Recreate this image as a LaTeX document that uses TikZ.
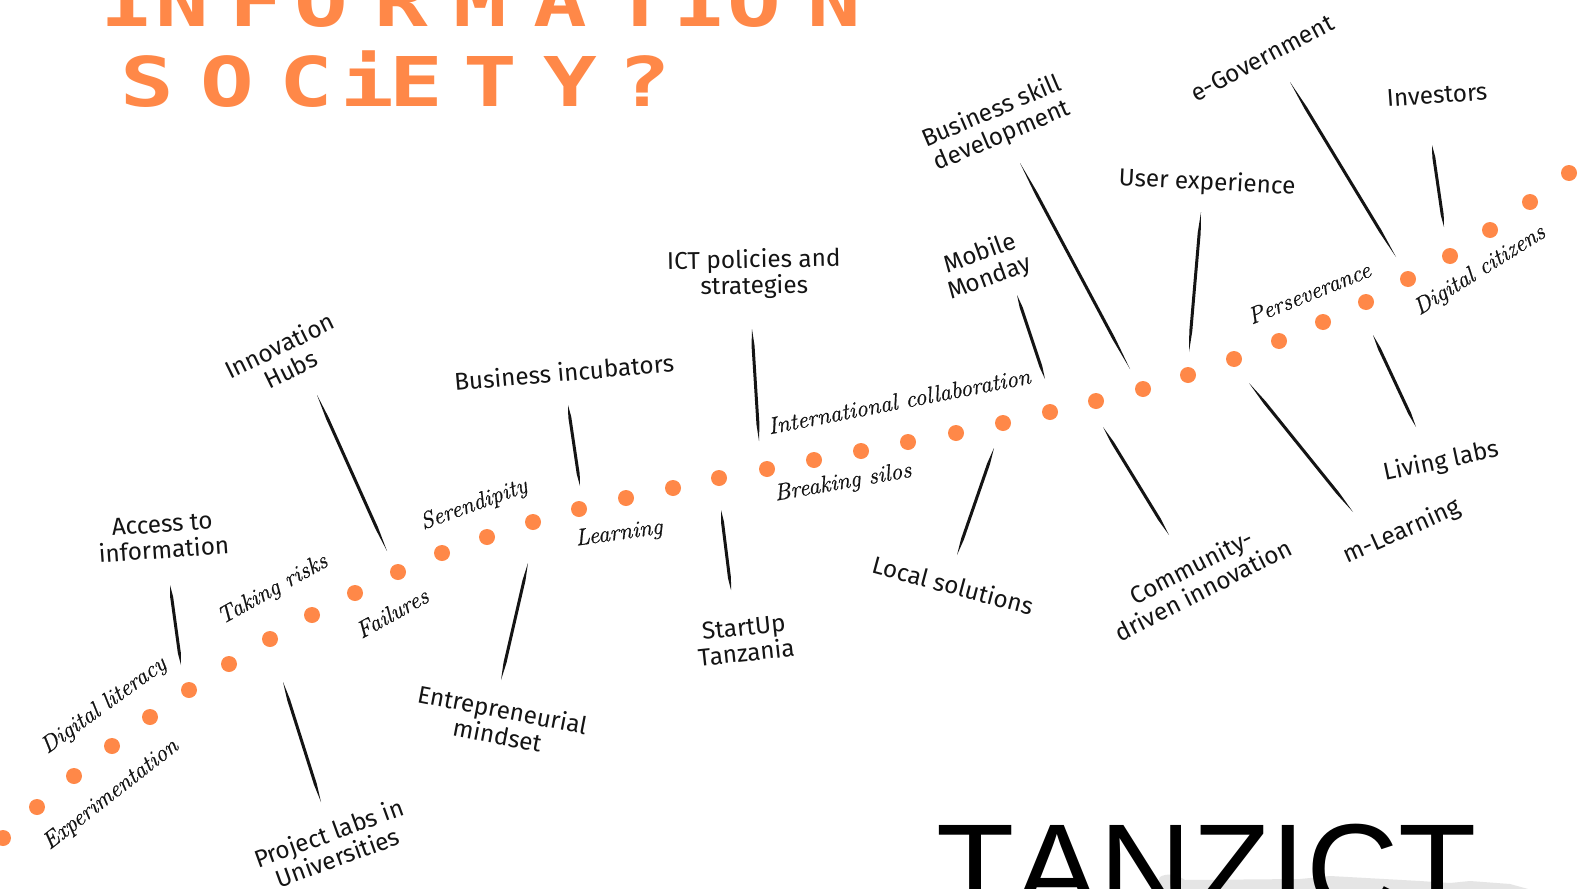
\documentclass[tikz,border=0pt]{standalone}
\usepackage{fontspec}
\usetikzlibrary{calc}
\newfontfamily\labfont{Fira Sans}
\newfontfamily\pixfont{DejaVu Sans Mono}[FakeStretch=1.3]
\newfontfamily\tzfont{Liberation Sans}[Kerning=Off]
\newfontfamily\handfont{Latin Modern Roman}[FakeBold=0.7]
\definecolor{orng}{RGB}{255,136,72}
\definecolor{ink}{RGB}{20,20,20}
\definecolor{smudge}{RGB}{229,229,229}
\newcommand\brush[2]{%
  \fill[ink] (#1) -- ($(#1)!0.15!(#2)!1.5pt!90:(#2)$) -- ($(#1)!0.85!(#2)!1.5pt!90:(#2)$)
   -- (#2) -- ($(#1)!0.85!(#2)!1.5pt!-90:(#2)$) -- ($(#1)!0.15!(#2)!1.5pt!-90:(#2)$) -- cycle;}
\tikzset{
  lbl/.style={font=\labfont\fontsize{24.3}{26}\selectfont, text=ink, align=center, inner sep=0pt},
  hw/.style={font=\handfont\itshape\fontsize{23.5}{25}\selectfont, text=ink, inner sep=0pt},
  pix/.style={font=\pixfont\bfseries\fontsize{68.6}{70}\selectfont, text=orng, inner sep=0pt, anchor=base},
}
\begin{document}
\begin{tikzpicture}[x=1pt,y=-1pt]
\useasboundingbox (0,0) rectangle (1583,889);
\clip (0,0) rectangle (1583,889);
\fill[white] (0,0) rectangle (1583,889);

% title in pixel-like letters
\foreach \l/\x [count=\i] in {I/127.4,N/182.2,F/256.8,O/321.5,R/401,M/480.7,A/560.3,T/639.9,I/700.4,O/754.3,N/833.9}
  \node[pix] (ta\i) at (\x,26.7) {\l};
\foreach \l/\x [count=\i] in {S/147.4,O/227,C/306.6,i/367.2,E/416,T/490.6,Y/570.2,?/644.8}
  \node[pix] (tb\i) at (\x,106.7) {\l};

% dotted path
\foreach \p in {(3,838),(37,807),(74,776),(112,746),(150,717),(189,690),(229,664),(270,639),(312,615),(355,593),(398,572),(442,553),(487,537),(533,522),(579,509),(626,498),(673,488),(719,478),(767,469),(814,460),(861,451),(908,442),(956,433),(1003,423),(1050,412),(1096,401),(1143,389),(1188,375),(1234,359),(1279,341),(1323,322),(1366,302),(1408,279),(1450,256),(1490,230),(1530,202),(1569,173)}
  \fill[orng] \p circle[radius=8pt];

% labels
\node[lbl, rotate=4] (access) at (163,537) {Access to\\information};
\node[lbl, rotate=26] (hubs) at (285,357) {Innovation\\Hubs};
\node[lbl, rotate=20] (plabs) at (333,845) {Project labs in\\Universities};
\node[lbl, rotate=5] (incub) at (564,372) {Business incubators};
\node[lbl, rotate=-11] (entre) at (500,722) {Entrepreneurial\\mindset};
\node[lbl, rotate=1] (ict) at (754,274) {ICT policies and\\strategies};
\node[lbl, rotate=6] (startup) at (745,640) {StartUp\\Tanzania};
\node[lbl, rotate=20] (mobile) at (985,266) {Mobile\\Monday};
\node[lbl, rotate=23] (bsd) at (997,124) {Business skill\\development};
\node[lbl, rotate=-15] (local) at (953,585) {Local solutions};
\node[lbl, rotate=-3] (ux) at (1207,183) {User experience};
\node[lbl, rotate=27] (comm) at (1197,578) {Community-\\driven innovation};
\node[lbl, rotate=28] (egov) at (1262,58) {e-Government};
\node[lbl, rotate=4] (invest) at (1437,95) {Investors};
\node[lbl, rotate=12] (living) at (1441,462) {Living labs};
\node[lbl, rotate=24] (mlearn) at (1402,532) {m-Learning};

% handwritten words
\node[hw, rotate=38] (exper) at (111,795) {Experimentation};
\node[hw, rotate=36] (diglit) at (104,706) {Digital literacy};
\node[hw, rotate=29] (risks) at (273,590) {Taking risks};
\node[hw, rotate=29] (fail) at (392,613) {Failures};
\node[hw, rotate=20] (seren) at (474,505) {Serendipity};
\node[hw, rotate=8] (learn) at (619,534) {Learning};
\node[hw, rotate=10] (silos) at (843,483) {Breaking silos};
\node[hw, rotate=11] (intl) at (899,401) {International collaboration};
\node[hw, rotate=22] (persev) at (1309,293) {Perseverance};
\node[hw, rotate=32] (digcit) at (1480,271) {Digital citizens};

% connector ends
\coordinate (c1a) at (170,585);  \coordinate (c1b) at (181,665);
\coordinate (c2a) at (317,395);  \coordinate (c2b) at (387,551);
\coordinate (c3a) at (283,682);  \coordinate (c3b) at (321,802);
\coordinate (c4a) at (568,405);  \coordinate (c4b) at (580,486);
\coordinate (c5a) at (528,563);  \coordinate (c5b) at (501,680);
\coordinate (c6a) at (752,329);  \coordinate (c6b) at (759,441);
\coordinate (c7a) at (721,510);  \coordinate (c7b) at (731,590);
\coordinate (c8a) at (1017,295); \coordinate (c8b) at (1045,379);
\coordinate (c9a) at (1020,163); \coordinate (c9b) at (1130,369);
\coordinate (c10a) at (994,448); \coordinate (c10b) at (957,555);
\coordinate (c11a) at (1201,212); \coordinate (c11b) at (1189,352);
\coordinate (c12a) at (1103,427); \coordinate (c12b) at (1169,535);
\coordinate (c13a) at (1290,82); \coordinate (c13b) at (1396,257);
\coordinate (c14a) at (1432,145); \coordinate (c14b) at (1444,227);
\coordinate (c15a) at (1373,335); \coordinate (c15b) at (1416,427);
\coordinate (c16a) at (1249,383); \coordinate (c16b) at (1353,512);
\foreach \i in {1,...,16} {\brush{c\i a}{c\i b}}

% TANZICT logo
\fill[smudge] (1155,889) -- (1160,877) .. controls (1166,873) and (1176,874) .. (1185,880)
  -- (1300,879) -- (1330,876) -- (1420,881) -- (1450,883) -- (1470,881) -- (1510,884) -- (1528,889) -- cycle;
\node[anchor=base west, inner sep=0pt, font=\tzfont\fontsize{128}{128}\selectfont, text=black] (tanzict) at (936,913.6) {TANZICT};
\end{tikzpicture}
\end{document}
